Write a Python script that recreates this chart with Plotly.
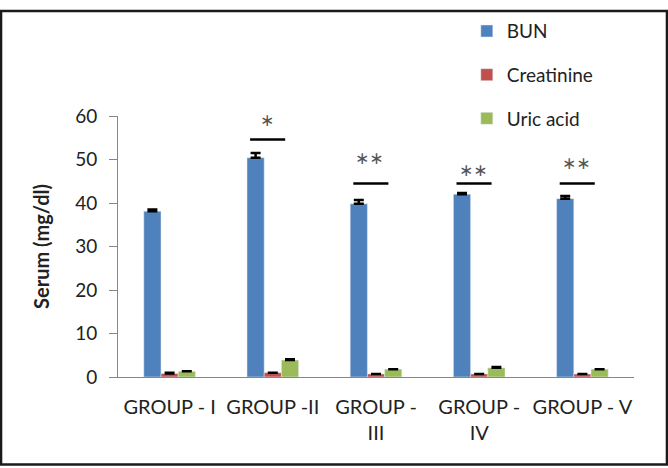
import plotly.graph_objects as go

groups = ["GROUP - I", "GROUP -II", "GROUP -<br>III", "GROUP -<br>IV", "GROUP - V"]

bun = [38.1, 50.4, 39.8, 42.0, 41.0]
bun_err = [0.4, 1.1, 0.9, 0.3, 0.6]
creatinine = [0.8, 1.0, 0.7, 0.7, 0.7]
creatinine_err = [0.2, None, None, None, None]
uric_acid = [1.3, 3.9, 1.8, 2.1, 1.8]
uric_acid_err = [None, 0.2, None, 0.2, None]

# significance marks: group index, height of the line, star label
sig_group = [1, 2, 3, 4]
sig_line = [54.6, 44.5, 44.5, 44.5]
sig_label = ["∗", "∗∗", "∗∗", "∗∗"]
sig_star_y = [59.0, 50.3, 47.6, 49.3]

colors = ["#4F81BD", "#C0504D", "#9BBB59"]
font = "Lato, 'Open Sans', sans-serif"

fig = go.Figure()
series = [("BUN", bun, bun_err), ("Creatinine", creatinine, creatinine_err),
          ("Uric acid", uric_acid, uric_acid_err)]
for (name, vals, err), c in zip(series, colors):
    fig.add_trace(go.Bar(
        name=name, x=list(range(len(groups))), y=vals, marker_color=c,
        legendgroup=name,
        error_y=dict(type="data", array=err, arrayminus=[0] * len(err),
                     symmetric=False, color="black", thickness=2.5, width=5),
    ))

for g, ly, lab, sy in zip(sig_group, sig_line, sig_label, sig_star_y):
    fig.add_shape(type="line", x0=g - 0.22, x1=g + 0.12, y0=ly, y1=ly,
                  line=dict(color="black", width=2.5))
    fig.add_annotation(x=g - 0.06, y=sy, text=lab, showarrow=False,
                       font=dict(size=17, color="#555555", family="DejaVu Sans"))

W, H = 668, 468
l, r, t, b = 118, 34, 109, 91
pw, ph = W - l - r, H - t - b
# frame around the whole picture
fig.add_shape(type="rect", xref="paper", yref="paper",
              x0=-l / pw + 0.002, x1=1 + r / pw - 0.002,
              y0=-b / ph + 0.004, y1=1 + t / ph - 0.004,
              line=dict(color="#1a1a1a", width=2.5))

fig.update_layout(
    width=W, height=H, margin=dict(l=l, r=r, t=t, b=b),
    plot_bgcolor="white", paper_bgcolor="white",
    barmode="group", bargap=0.5, bargroupgap=0,
    font=dict(family=font, size=20, color="#222"),
    legend=dict(x=0.676, y=1.398, xanchor="left", yanchor="top",
                font=dict(size=19), tracegroupgap=16, bgcolor="rgba(0,0,0,0)"),
    xaxis=dict(tickmode="array", tickvals=list(range(len(groups))), ticktext=groups,
               range=[-0.5, len(groups) - 0.5], showline=True, linecolor="#868686",
               linewidth=1, ticks="", showgrid=False, tickfont=dict(size=20),
               ticklabelstandoff=12),
    yaxis=dict(range=[0, 60], dtick=10, showline=True, linecolor="#868686",
               ticks="outside", ticklen=8, tickcolor="#868686", showgrid=False,
               zeroline=False, tickfont=dict(size=19), ticklabelstandoff=8,
               title=dict(text="<b>Serum (mg/dl)</b>", font=dict(size=20), standoff=20)),
)

fig.write_html("out.html", config={"displayModeBar": False},
               post_script="document.body.style.margin='0';")
